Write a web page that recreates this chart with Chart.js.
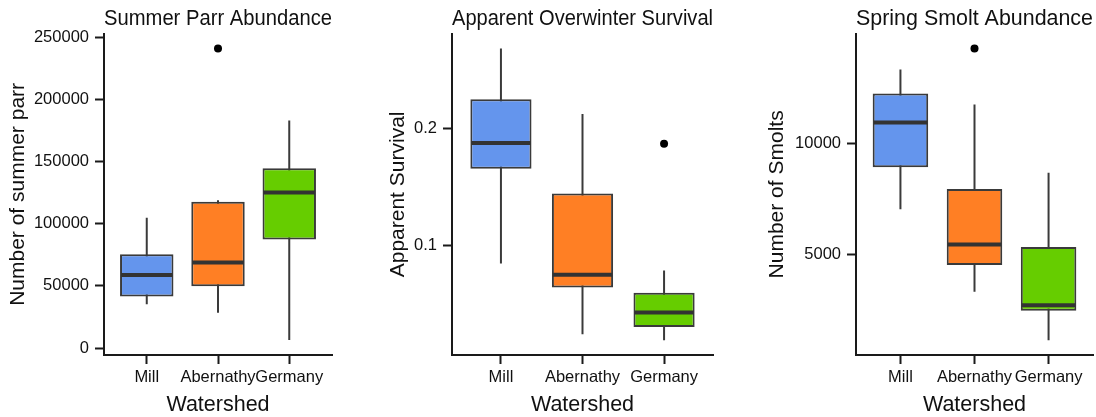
<!DOCTYPE html>
<html>
<head>
<meta charset="utf-8">
<script src="https://cdn.jsdelivr.net/npm/chart.js@4/dist/chart.umd.min.js"></script>
<style>
  html, body { margin: 0; padding: 0; background: #fff; overflow: hidden; width: 1096px; height: 417px; }
  .panel { position: absolute; top: 0; }
</style>
</head>
<body>
<div class="panel" style="left:0px"><canvas id="c1" width="336" height="418"></canvas></div>
<div class="panel" style="left:372px"><canvas id="c2" width="345" height="418"></canvas></div>
<div class="panel" style="left:740px"><canvas id="c3" width="357" height="418"></canvas></div>
<script>
// ---- data ----
const categories = ['Mill', 'Abernathy', 'Germany'];
const boxColors = ['#6495ED', '#FF7F24', '#66CD00'];

// Panel 1: Summer Parr Abundance
const parrMin    = [35300, 28400, 6400];
const parrQ1     = [41400, 49800, 87300];
const parrMedian = [58900, 68800, 125300];
const parrQ3     = [75500, 117800, 144800];
const parrMax    = [105000, 118900, 183200];
const parrOutliers = [{cat: 1, value: 241200}];
const parrTicks  = [0, 50000, 100000, 150000, 200000, 250000];

// Panel 2: Apparent Overwinter Survival
const survMin    = [0.0846, 0.0239, 0.0188];
const survQ1     = [0.1658, 0.0641, 0.0302];
const survMedian = [0.1880, 0.0749, 0.0427];
const survQ3     = [0.2253, 0.1447, 0.0595];
const survMax    = [0.2689, 0.2128, 0.0786];
const survOutliers = [{cat: 2, value: 0.1872}];
const survTicks  = [0.1, 0.2];

// Panel 3: Spring Smolt Abundance
const smoltMin    = [7030, 3330, 1150];
const smoltQ1     = [8920, 4530, 2480];
const smoltMedian = [10920, 5450, 2720];
const smoltQ3     = [12230, 7940, 5340];
const smoltMax    = [13300, 11730, 8670];
const smoltOutliers = [{cat: 1, value: 14250}];
const smoltTicks  = [5000, 10000];

const xTicks = [0, 1, 2];

// ---- helpers ----
const FONT = "'Liberation Sans', Arial, sans-serif";
const TXT = '#111111';

const medianPlugin = {
  id: 'medianLines',
  afterDatasetsDraw(chart) {
    const medians = chart.options.plugins.medianLines.values;
    const meta = chart.getDatasetMeta(0);
    const y = chart.scales.y;
    const ctx = chart.ctx;
    ctx.save();
    ctx.strokeStyle = '#333333';
    ctx.lineWidth = 4;
    ctx.lineCap = 'butt';
    meta.data.forEach((el, i) => {
      const py = y.getPixelForValue(medians[i]);
      ctx.beginPath();
      ctx.moveTo(el.x - el.width / 2 + 1, py);
      ctx.lineTo(el.x + el.width / 2 - 1, py);
      ctx.stroke();
    });
    ctx.restore();
  }
};

function makeChart(id, cfg) {
  const boxData = categories.map((c, i) => ({x: i, y: [cfg.q1[i], cfg.q3[i]]}));
  const whiskerData = [];
  categories.forEach((c, i) => {
    whiskerData.push({x: i, y: cfg.min[i]});
    whiskerData.push({x: i, y: cfg.max[i]});
    whiskerData.push({x: i, y: null});
  });
  const outData = cfg.outliers.map(o => ({x: o.cat, y: o.value}));

  return new Chart(document.getElementById(id), {
    data: {
      datasets: [
        {
          type: 'bar',
          data: boxData,
          backgroundColor: boxColors,
          borderColor: '#3a3a3a',
          borderWidth: 2,
          borderSkipped: false,
          barPercentage: 0.75,
          categoryPercentage: 1.0,
          order: 1
        },
        {
          type: 'line',
          data: whiskerData,
          borderColor: '#3a3a3a',
          borderWidth: 2,
          pointRadius: 0,
          spanGaps: false,
          fill: false,
          order: 2
        },
        {
          type: 'scatter',
          data: outData,
          pointRadius: 4,
          pointBackgroundColor: '#000',
          pointBorderWidth: 0,
          order: 0
        }
      ]
    },
    options: {
      responsive: false,
      devicePixelRatio: 1,
      animation: false,
      events: [],
      layout: { padding: { top: 6, left: 0, right: 0, bottom: 0 } },
      plugins: {
        legend: { display: false },
        tooltip: { enabled: false },
        title: {
          display: true,
          text: cfg.title,
          fullSize: false,
          color: TXT,
          font: { family: FONT, size: 21.5, weight: 'normal' },
          padding: { top: 0, bottom: 2 }
        },
        medianLines: { values: cfg.median }
      },
      scales: {
        x: {
          type: 'linear',
          min: -0.6,
          max: 2.6,
          offset: false,
          afterBuildTicks: s => { s.ticks = xTicks.map(v => ({value: v})); },
          afterFit: s => { s.height = 63; },
          ticks: {
            color: TXT,
            font: { family: FONT, size: 16.5 },
            padding: 4,
            autoSkip: false,
            maxRotation: 0,
            callback: v => categories[v]
          },
          grid: { offset: false, drawOnChartArea: false, drawTicks: true, tickLength: 9, tickColor: '#1a1a1a', tickWidth: 2 },
          border: { display: true, color: '#1a1a1a', width: 2 },
          title: {
            display: true, text: 'Watershed', color: TXT,
            font: { family: FONT, size: 21.5 },
            padding: { top: 0, bottom: 0 }
          }
        },
        y: {
          type: 'linear',
          min: cfg.yMin,
          max: cfg.yMax,
          afterBuildTicks: s => { s.ticks = cfg.ticks.map(v => ({value: v})); },
          afterFit: s => { s.width = cfg.yWidth; },
          ticks: {
            color: TXT,
            font: { family: FONT, size: 16.5 },
            padding: 6,
            callback: v => String(v)
          },
          grid: { drawOnChartArea: false, drawTicks: true, tickLength: 9, tickColor: '#1a1a1a', tickWidth: 2 },
          border: { display: true, color: '#1a1a1a', width: 2 },
          title: {
            display: true, text: cfg.yTitle, color: TXT,
            font: { family: FONT, size: 21 },
            padding: { top: cfg.yTitlePad, bottom: 0 }
          }
        }
      }
    },
    plugins: [medianPlugin]
  });
}

makeChart('c1', {
  title: 'Summer Parr Abundance', yTitle: 'Number of summer parr',
  min: parrMin, q1: parrQ1, median: parrMedian, q3: parrQ3, max: parrMax,
  outliers: parrOutliers, ticks: parrTicks,
  yMin: -5600, yMax: 253000, yWidth: 104, yTitlePad: 6
});
makeChart('c2', {
  title: 'Apparent Overwinter Survival', yTitle: 'Apparent Survival',
  min: survMin, q1: survQ1, median: survMedian, q3: survQ3, max: survMax,
  outliers: survOutliers, ticks: survTicks,
  yMin: 0.0062, yMax: 0.2815, yWidth: 80, yTitlePad: 14
});
makeChart('c3', {
  title: 'Spring Smolt Abundance', yTitle: 'Number of Smolts',
  min: smoltMin, q1: smoltQ1, median: smoltMedian, q3: smoltQ3, max: smoltMax,
  outliers: smoltOutliers, ticks: smoltTicks,
  yMin: 492, yMax: 14906, yWidth: 116, yTitlePad: 25
});
</script>
</body>
</html>
